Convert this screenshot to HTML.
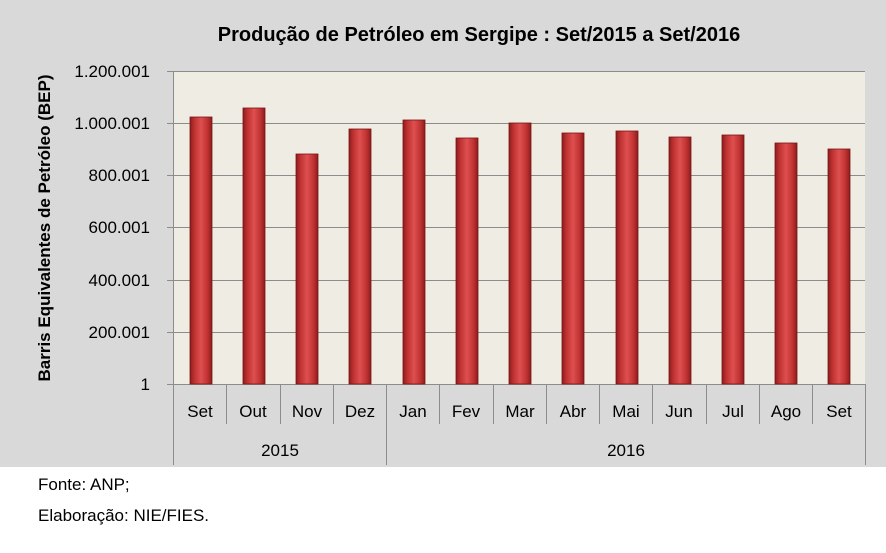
<!DOCTYPE html>
<html><head><meta charset="utf-8"><style>
body{margin:0;background:#fff;}
svg text{font-family:"Liberation Sans",sans-serif;}
</style></head><body>
<svg width="886" height="548" xmlns="http://www.w3.org/2000/svg">
<defs>
<linearGradient id="g" x1="0" x2="1" y1="0" y2="0">
<stop offset="0" stop-color="#8a1c1c"/><stop offset="0.2" stop-color="#c03232"/>
<stop offset="0.5" stop-color="#de4f4f"/><stop offset="0.8" stop-color="#c03232"/>
<stop offset="1" stop-color="#8a1c1c"/></linearGradient>
</defs>
<rect x="0" y="0" width="886" height="467" fill="#d9d9d9"/>
<text x="479" y="41" font-size="20" font-weight="bold" text-anchor="middle" fill="#000">Produção  de Petróleo em Sergipe : Set/2015 a Set/2016</text>
<rect x="173" y="71" width="692" height="313" fill="#eeece3"/>
<g stroke="#8c8c8c" stroke-width="1">
<line x1="167" y1="71.5" x2="865" y2="71.5"/>
<line x1="167" y1="123.5" x2="865" y2="123.5"/>
<line x1="167" y1="175.5" x2="865" y2="175.5"/>
<line x1="167" y1="227.5" x2="865" y2="227.5"/>
<line x1="167" y1="280.5" x2="865" y2="280.5"/>
<line x1="167" y1="332.5" x2="865" y2="332.5"/>
<line x1="167" y1="384.5" x2="865" y2="384.5"/>
<line x1="173.5" y1="71" x2="173.5" y2="465"/>
<line x1="865.5" y1="384" x2="865.5" y2="465"/>
<line x1="386.5" y1="384" x2="386.5" y2="465"/>
<line x1="226.5" y1="384" x2="226.5" y2="424"/>
<line x1="280.5" y1="384" x2="280.5" y2="424"/>
<line x1="333.5" y1="384" x2="333.5" y2="424"/>
<line x1="439.5" y1="384" x2="439.5" y2="424"/>
<line x1="493.5" y1="384" x2="493.5" y2="424"/>
<line x1="546.5" y1="384" x2="546.5" y2="424"/>
<line x1="599.5" y1="384" x2="599.5" y2="424"/>
<line x1="652.5" y1="384" x2="652.5" y2="424"/>
<line x1="706.5" y1="384" x2="706.5" y2="424"/>
<line x1="759.5" y1="384" x2="759.5" y2="424"/>
<line x1="812.5" y1="384" x2="812.5" y2="424"/>
</g>
<g font-size="17" text-anchor="end" fill="#000">
<text x="150" y="77">1.200.001</text><text x="150" y="129">1.000.001</text>
<text x="150" y="181">800.001</text><text x="150" y="233">600.001</text>
<text x="150" y="286">400.001</text><text x="150" y="338">200.001</text>
<text x="150" y="390">1</text>
</g>
<text transform="translate(50,228) rotate(-90)" font-size="17" font-weight="bold" text-anchor="middle">Barris Equivalentes de Petróleo (BEP)</text>
<g fill="url(#g)" stroke="#7a1515" stroke-width="0.8">
<rect x="190" y="117" width="22" height="267"/>
<rect x="243" y="108" width="22" height="276"/>
<rect x="296" y="154" width="22" height="230"/>
<rect x="349" y="129" width="22" height="255"/>
<rect x="403" y="120" width="22" height="264"/>
<rect x="456" y="138" width="22" height="246"/>
<rect x="509" y="123" width="22" height="261"/>
<rect x="562" y="133" width="22" height="251"/>
<rect x="616" y="131" width="22" height="253"/>
<rect x="669" y="137" width="22" height="247"/>
<rect x="722" y="135" width="22" height="249"/>
<rect x="775" y="143" width="22" height="241"/>
<rect x="828" y="149" width="22" height="235"/>
</g>
<g font-size="17" text-anchor="middle" fill="#000">
<text x="200" y="417">Set</text><text x="253" y="417">Out</text><text x="307" y="417">Nov</text>
<text x="360" y="417">Dez</text><text x="413" y="417">Jan</text><text x="466" y="417">Fev</text>
<text x="520" y="417">Mar</text><text x="573" y="417">Abr</text><text x="626" y="417">Mai</text>
<text x="679" y="417">Jun</text><text x="733" y="417">Jul</text><text x="786" y="417">Ago</text>
<text x="839" y="417">Set</text>
<text x="280" y="456">2015</text><text x="626" y="456">2016</text>
</g>
<g font-size="17" fill="#000">
<text x="38" y="490">Fonte: ANP;</text>
<text x="38" y="521">Elaboração: NIE/FIES.</text>
</g>
</svg>
</body></html>
